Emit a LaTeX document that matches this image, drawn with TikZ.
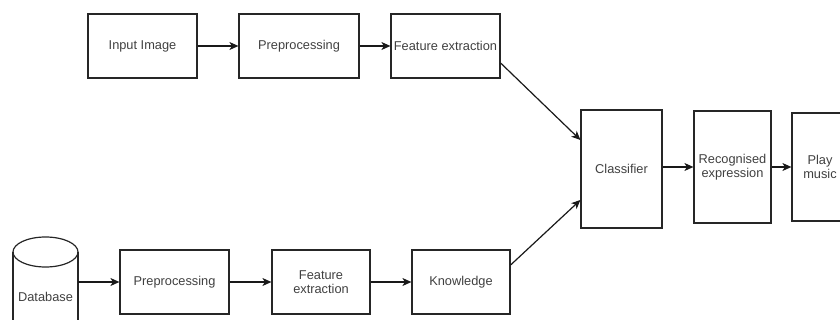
\documentclass[tikz,border=0pt]{standalone}
\usepackage{fontspec}
\setmainfont{Liberation Sans}
\usetikzlibrary{arrows.meta}
\begin{document}
\begin{tikzpicture}[x=1pt,y=-1pt,
  box/.style={draw=black!85,line width=1.2pt,align=center,text=black!75,inner sep=1pt,font=\fontsize{12.8}{14.5}\selectfont},
  arr/.style={-{Stealth[length=9pt,width=8pt,inset=2.5pt]},line width=1.2pt,draw=black!90}]
\useasboundingbox (0,0) rectangle (840,320);
\clip (0,0) rectangle (840,320);
% upper row
\node[box,minimum width=109pt,minimum height=64pt] (img) at (142.5,46) {Input Image};
\node[box,minimum width=120pt,minimum height=64pt] (pre1) at (299,46) {Preprocessing};
\node[box,minimum width=109pt,minimum height=64pt] (feat1) at (445.5,46) {Feature extraction};
\draw[arr] (img) -- (pre1);
\draw[arr] (pre1) -- (feat1);
% lower row
\draw[line width=1.2pt,draw=black!85] (13,252) -- (13,345) (78,252) -- (78,345);
\draw[line width=1.2pt,draw=black!85] (45.5,252) ellipse [x radius=32.5, y radius=15];
\node[box,draw=none] (dbtext) at (45.5,297) {Database};
\coordinate (dbout) at (78,282);
\node[box,minimum width=109pt,minimum height=64pt] (pre2) at (174.5,282) {Preprocessing};
\node[box,minimum width=98pt,minimum height=64pt] (feat2) at (321,282) {Feature\\extraction};
\node[box,minimum width=98pt,minimum height=64pt] (know) at (461,282) {Knowledge};
\draw[arr] (dbout) -- (pre2.west);
\draw[arr] (pre2) -- (feat2);
\draw[arr] (feat2) -- (know);
% right part
\node[box,minimum width=81pt,minimum height=118pt] (cls) at (621.5,169) {Classifier};
\node[box,minimum width=77pt,minimum height=112pt] (rec) at (732.5,167) {Recognised\\expression};
\node[box,minimum width=56pt,minimum height=108pt] (play) at (820,167) {Play\\music};
\draw[arr] ([yshift=-17pt]feat1.east) -- ([yshift=29pt]cls.west);
\draw[arr] ([yshift=17pt]know.east) -- ([yshift=-31pt]cls.west);
\draw[arr] ([yshift=2pt]cls.east) -- (rec.west);
\draw[arr] (rec) -- (play);
\end{tikzpicture}
\end{document}
